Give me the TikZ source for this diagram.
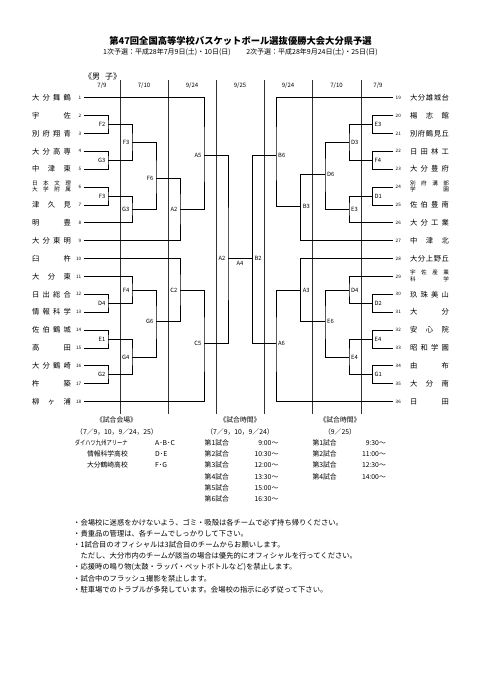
\documentclass[tikz,border=0pt]{standalone}
\usepackage{fontspec}
\setmainfont{Noto Sans CJK JP}
\usepackage{graphicx}
\usetikzlibrary{positioning}

% school names are spread over a fixed width
\def\spreadchars#1#2\endspread{#1\ifx\relax#2\relax\else\hfill\spreadchars#2\endspread\fi}
\newcommand\tname[1]{\makebox[39pt][s]{\spreadchars#1\endspread}}
\newcommand\ttwo[2]{{\fontsize{5.6}{5.7}\selectfont\begin{tabular}{@{}c@{}}\tname{#1}\\\tname{#2}\end{tabular}}}

\begin{document}
\begin{tikzpicture}[x=1pt,y=-1pt]
% y grows downwards, as on the printed sheet

% style
\tikzset{
    every node/.style={inner sep=0pt},
    bracket/.style={draw, line width=0.7pt},
    dayline/.style={draw, line width=0.8pt, black!80},
    teamname/.style={font=\fontsize{7.3}{8}\selectfont},
    teamno/.style={font=\fontsize{4.6}{5}\selectfont},
    matchlbl/.style={font=\fontsize{5.8}{6}\selectfont},
    daylbl/.style={font=\fontsize{6}{7}\selectfont},
    smalltext/.style={font=\fontsize{6.8}{8}\selectfont},
    notetext/.style={font=\fontsize{7.3}{8}\selectfont, anchor=west}
}

\useasboundingbox[fill=white] (0,0) rectangle (481,680);

% heading
\node[font=\bfseries\fontsize{9.3}{10}\selectfont] (title) at (240.5,41) {第47回全国高等学校バスケットボール選抜優勝大会大分県予選};
\node[font=\fontsize{7}{8}\selectfont] (subtitle) at (240.5,52.5) {1次予選：平成28年7月9日(土)・10日(日)\hspace{2.2em}2次予選：平成28年9月24日(土)・25日(日)};
\node[font=\fontsize{8}{9}\selectfont, anchor=west] (boys) at (84,76) {《男\hspace{0.6em}子》};

% days
\foreach \x/\d [count=\i] in {102/{7/9},144/{7/10},192/{9/24},240/{9/25},288/{9/24},336.5/{7/10},378/{7/9}}
    \node[daylbl] (day\i) at (\x,85.5) {\d};
\foreach \x in {120,168,216,264,312,361}
    \draw[dayline] (\x,80) -- (\x,414);

% teams, left
\foreach \name [count=\i] in {%
    \tname{大分舞鶴},\tname{宇佐},\tname{別府翔青},\tname{大分高専},\tname{中津東},%
    \ttwo{日本文理}{大学附属},\tname{津久見},\tname{明豊},\tname{大分東明},%
    \tname{臼杵},\tname{大分東},\tname{日出総合},\tname{情報科学},\tname{佐伯鶴城},%
    \tname{高田},\tname{大分鶴崎},\tname{杵築},\tname{柳ヶ浦}%
}{
    \pgfmathsetmacro\ty{97.7+(\i-1)*17.87}
    \coordinate (t\i) at (83.5,\ty);
    \node[teamno, anchor=east] (no\i) at (81.5,\ty) {\i};
    \node[teamname] (team\i) at (51.5,\ty) {\name};
}

% teams, right
\foreach \name [count=\k from 19] in {%
    \tname{大分雄城台},\tname{楊志館},\tname{別府鶴見丘},\tname{日田林工},\tname{大分豊府},%
    \ttwo{別府溝部}{学園},\tname{佐伯豊南},\tname{大分工業},\tname{中津北},%
    \tname{大分上野丘},\ttwo{宇佐産業}{科学},\tname{玖珠美山},\tname{大分},\tname{安心院},%
    \tname{昭和学園},\tname{由布},\tname{大分南},\tname{日田}%
}{
    \pgfmathsetmacro\ty{97.7+(\k-19)*17.87}
    \coordinate (t\k) at (393.3,\ty);
    \node[teamno, anchor=west] (no\k) at (395.5,\ty) {\k};
    \node[teamname] (team\k) at (429.5,\ty) {\name};
}

% games, left side (label left of the join)
\foreach \m/\lbl/\x/\y in {%
    F2/F2/108/124.5, G3a/G3/108/160.3, F3a/F3/108/196.1,
    D4a/D4/108/303.3, E1/E1/108/339.1, G2/G2/108/374.8,
    F3b/F3/132/142, G3b/G3/132/209, F4a/F4/132/290, G4/G4/132/357,
    F6/F6/156/178, G6/G6/156/321,
    A2a/A2/180/209, C2/C2/180/290,
    A5/A5/204/155.5, C5/C5/204/343,
    A2b/A2/228/258%
} {
    \coordinate (c\m) at (\x,\y);
    \node[matchlbl, left=2.5pt of c\m] (\m) {\lbl};
}

% games, right side (label right of the join)
\foreach \m/\lbl/\x/\y in {%
    E3a/E3/372.5/124.5, F4b/F4/372.5/160.3, D1/D1/372.5/196.1,
    D2/D2/372.5/303.3, E4a/E4/372.5/339.1, G1/G1/372.5/374.8,
    D3/D3/349/142, E3b/E3/349/209, D4b/D4/349/290, E4b/E4/349/357,
    D6/D6/325/174.5, E6/E6/325/321,
    B3/B3/300.7/206, A3/A3/300.7/290,
    B6/B6/276/155.5, A6/A6/276/343,
    B2/B2/252.3/258%
} {
    \coordinate (c\m) at (\x,\y);
    \node[matchlbl, right=2pt of c\m] (\m) {\lbl};
}

% brackets
\foreach \a/\m/\b in {%
    t2/cF2/t3, t4/cG3a/t5, t6/cF3a/t7, t12/cD4a/t13, t14/cE1/t15, t16/cG2/t17,
    cF2/cF3b/cG3a, cF3a/cG3b/t8, t11/cF4a/cD4a, cE1/cG4/cG2,
    cF3b/cF6/cG3b, cF4a/cG6/cG4,
    cF6/cA2a/t9, t10/cC2/cG6,
    t1/cA5/cA2a, cC2/cC5/t18,
    cA5/cA2b/cC5,
    t20/cE3a/t21, t22/cF4b/t23, t24/cD1/t25, t30/cD2/t31, t32/cE4a/t33, t34/cG1/t35,
    cE3a/cD3/cF4b, cD1/cE3b/t26, t29/cD4b/cD2, cE4a/cE4b/cG1,
    cD3/cD6/cE3b, cD4b/cE6/cE4b,
    cD6/cB3/t27, t28/cA3/cE6,
    t19/cB6/cB3, cA3/cA6/t36,
    cB6/cB2/cA6%
} {
    \draw[bracket] (\a) -| (\m) |- (\b);
}

% final
\draw[bracket] (cA2b) -- (cB2);
\node[matchlbl] (A4) at (240,263.5) {A4};

% venues
\node[smalltext] (venuehead) at (116.5,420) {《試合会場》};
\node[smalltext] (venuedays) at (117,431.7) {（7／9，10，9／24，25）};
\node[smalltext, anchor=east] (venue1) at (128,442.7) {\scalebox{0.78}[1]{ダイハツ九州アリーナ}};
\node[smalltext, anchor=east] (venue2) at (128,454) {情報科学高校};
\node[smalltext, anchor=east] (venue3) at (128,465.3) {大分鶴崎高校};
\node[smalltext, anchor=west] (court1) at (155,442.7) {A･B･C};
\node[smalltext, anchor=west] (court2) at (155,454) {D･E};
\node[smalltext, anchor=west] (court3) at (155,465.3) {F･G};

% times, first stage
\node[smalltext] (timehead1) at (240,420) {《試合時間》};
\node[smalltext] (timedays1) at (240,431.7) {（7／9，10，9／24）};
\foreach \t [count=\i] in {9:00～,10:30～,12:00～,13:30～,15:00～,16:30～} {
    \pgfmathsetmacro\ty{442.7+(\i-1)*11.3}
    \node[smalltext, anchor=west] (game\i) at (204.5,\ty) {第\i 試合};
    \node[smalltext, anchor=east] (start\i) at (278.5,\ty) {\t};
}

% times, second stage
\node[smalltext] (timehead2) at (340,420) {《試合時間》};
\node[smalltext] (timedays2) at (340,431.7) {（9／25）};
\foreach \t [count=\i] in {9:30～,11:00～,12:30～,14:00～} {
    \pgfmathsetmacro\ty{442.7+(\i-1)*11.3}
    \node[smalltext, anchor=west] (gameb\i) at (312.3,\ty) {第\i 試合};
    \node[smalltext, anchor=east] (startb\i) at (386,\ty) {\t};
}

% notes
\foreach \line [count=\i] in {%
    ・会場校に迷惑をかけないよう、ゴミ・吸殻は各チームで必ず持ち帰りください。,
    ・貴重品の管理は、各チームでしっかりして下さい。,
    ・1試合目のオフィシャルは3試合目のチームからお願いします。,
    　ただし、大分市内のチームが該当の場合は優先的にオフィシャルを行ってください。,
    ・応援時の鳴り物(太鼓・ラッパ・ペットボトルなど)を禁止します。,
    ・試合中のフラッシュ撮影を禁止します。,
    ・駐車場でのトラブルが多発しています。会場校の指示に必ず従って下さい。%
} {
    \pgfmathsetmacro\ty{522.3+(\i-1)*11.2}
    \node[notetext] (note\i) at (73,\ty) {\line};
}

\end{tikzpicture}
\end{document}
